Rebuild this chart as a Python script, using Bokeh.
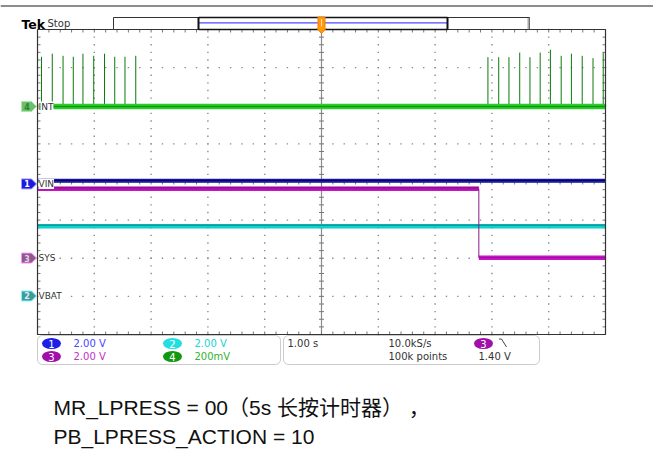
import numpy as np
from bokeh.plotting import figure
from bokeh.models import Range1d, Label, BoxAnnotation
from bokeh.embed import file_html
from bokeh.resources import INLINE

# ---------------- acquisition data ----------------
# Horizontal: 1.00 s/div, 10 divisions, t = 0 at screen centre
time_per_div = 1.0
# Channel vertical settings (V/div) and marker offsets (divisions)
ch_scale = {1: 2.0, 2: 2.0, 3: 2.0, 4: 0.2}
ch_offset = {1: -0.05, 2: -2.99, 3: -1.995, 4: 1.98}
ch_names = {1: "VIN", 2: "VBAT", 3: "SYS", 4: "INT"}

# CH4  INT  (interrupt pulses, mV)
int_pulse_t = [-4.93, -4.74, -4.55, -4.37, -4.20, -4.01, -3.82, -3.64, -3.46, -3.27,
               2.93, 3.12, 3.30, 3.49, 3.67, 3.85, 4.03, 4.22, 4.40, 4.59, 4.78, 4.96]
int_pulse_mv = [261, 277, 266, 261, 277, 266, 277, 261, 261, 266,
                259, 259, 259, 283, 259, 283, 298, 266, 277, 266, 254, 283]
int_t = [-5.0, 5.0]
int_mv = [0.0, 0.0]

# CH1  VIN (V)
vin_t = [-5.0, 5.0]
vin_v = [0.16, 0.16]

# CH3  SYS (V) - falls at t = 2.77 s
sys_t = [-5.0, 2.77, 2.77, 5.0]
sys_v = [3.63, 3.63, 0.02, 0.02]

# CH2  VBAT (V)
vbat_t = [-5.0, 5.0]
vbat_v = [3.66, 3.66]

# readouts
ch_readout = {1: "2.00 V", 2: "2.00 V", 3: "2.00 V", 4: "200mV"}
horiz_readout = "1.00 s"
rate_readout = "10.0kS/s"
points_readout = "100k points"
trig_level = "1.40 V"

caption_1 = "MR_LPRESS = 00（5s 长按计时器） ，"
caption_2 = "PB_LPRESS_ACTION = 10"

# ---------------- page geometry ----------------
W, H = 653, 452
GX0, GX1, GY0, GY1 = 37, 605, 29, 334      # graticule edges on the page
sx = 10.0 / (GX1 - GX0)                    # divisions per pixel
sy = 8.0 / (GY1 - GY0)


def px(x):
    return -5 + (x - GX0) * sx


def py(y):
    return 4 - (y - GY0) * sy


def to_div(ch, volts):
    return np.asarray(volts, dtype=float) / ch_scale[ch] + ch_offset[ch]


def screen_y(ch):
    return GY0 + (4 - ch_offset[ch]) / sy


p = figure(width=W, height=H, output_backend="svg", toolbar_location=None,
           x_range=Range1d(px(0), px(W)), y_range=Range1d(py(H), py(0)),
           x_axis_location=None, y_axis_location=None, min_border=0,
           outline_line_color=None, background_fill_color="white",
           border_fill_color="white")
p.grid.visible = False

# ---------------- graticule ----------------
minor = np.round(np.arange(-5, 5.0001, 0.2), 3)
minor_y = np.round(np.arange(-4, 4.0001, 0.2), 3)
dots_x, dots_y = [], []
for k in [-4, -3, -2, -1, 1, 2, 3, 4]:
    dots_x += [k] * len(minor_y)
    dots_y += list(minor_y)
for j in [-3, -2, -1, 1, 2, 3]:
    dots_x += list(minor)
    dots_y += [j] * len(minor)
p.scatter(dots_x, dots_y, marker="square", size=1.4, color="#8a8a8a", line_color=None)

# centre lines
p.segment(x0=[0, -5], y0=[-4, 0], x1=[0, 5], y1=[4, 0], line_color="#8a8a8a", line_width=1.2)
tl = 2.5
p.segment(x0=[-tl * sx] * len(minor_y), y0=list(minor_y), x1=[tl * sx] * len(minor_y),
          y1=list(minor_y), line_color="#777777", line_width=1)
p.segment(x0=list(minor), y0=[-tl * sy] * len(minor), x1=list(minor), y1=[tl * sy] * len(minor),
          line_color="#777777", line_width=1)
# border ticks
bl = 3
p.segment(x0=[-5] * len(minor_y), y0=list(minor_y), x1=[-5 + bl * sx] * len(minor_y),
          y1=list(minor_y), line_color="#777777", line_width=1)
p.segment(x0=[5] * len(minor_y), y0=list(minor_y), x1=[5 - bl * sx] * len(minor_y),
          y1=list(minor_y), line_color="#777777", line_width=1)
p.segment(x0=list(minor), y0=[4] * len(minor), x1=list(minor), y1=[4 - bl * sy] * len(minor),
          line_color="#777777", line_width=1)
p.segment(x0=list(minor), y0=[-4] * len(minor), x1=list(minor), y1=[-4 + bl * sy] * len(minor),
          line_color="#777777", line_width=1)

# ---------------- traces ----------------
# VBAT (cyan)
vb = to_div(2, vbat_v)
p.line(vbat_t, vb, line_color="#10d0d0", line_width=4.5)
p.line(vbat_t, vb + 1.2 * sy, line_color="#0a8c8c", line_width=1.2)

# SYS (magenta)
sv = to_div(3, sys_v)
p.line(sys_t[:2], sv[:2], line_color="#cc10cc", line_width=4.5)
p.line(sys_t[2:], sv[2:], line_color="#cc10cc", line_width=4.5)
p.line(sys_t, sv, line_color="#8a1a8a", line_width=1)
p.line(sys_t[:2], sv[:2] + 1.5 * sy, line_color="#8a108a", line_width=1)

# VIN (dark blue)
vv = to_div(1, vin_v)
p.line(vin_t, vv, line_color="#1c1ca8", line_width=4)
p.line(vin_t, vv + 0.5 * sy, line_color="#050560", line_width=1.3)

# INT (green)
iv = to_div(4, np.asarray(int_mv) / 1000.0)
base = to_div(4, 0.0)
tops = to_div(4, np.asarray(int_pulse_mv) / 1000.0)
p.segment(x0=int_pulse_t, y0=[float(base)] * len(int_pulse_t), x1=int_pulse_t, y1=list(tops),
          line_color="#0a7a0a", line_width=1)
p.line(int_t, iv, line_color="#2ccc2c", line_width=5.5)
p.line(int_t, iv, line_color="#0e9a0e", line_width=1.5)

# graticule frame
p.line([-5, 5, 5, -5, -5], [4, 4, -4, -4, 4], line_color="#333333", line_width=1.2)

# ---------------- channel tags and trace labels ----------------
tag_style = {
    1: ("#1a1ae0", "#9a9aff", "white"),
    2: ("#3f9c9c", "#7ff5f5", "#d8f0f0"),
    3: ("#8c5a8c", "#ff90ff", "#e8d0e8"),
    4: ("#6cc06c", "#a8e8a8", "#2f7f2f"),
}
for ch in [1, 2, 3, 4]:
    cy = screen_y(ch)
    xs = [px(v) for v in (21, 31, 36, 31, 21)]
    ys = [py(v) for v in (cy - 5, cy - 5, cy, cy + 5, cy + 5)]
    fill, edge, num = tag_style[ch]
    p.patch(xs, ys, fill_color=fill, line_color=edge, line_width=1)
    p.add_layout(Label(x=px(26.5), y=py(cy), text=str(ch), text_align="center",
                       text_baseline="middle", text_font="DejaVu Sans", text_font_size="8px",
                       text_color=num, text_font_style="bold"))
    p.add_layout(Label(x=px(38), y=py(cy), text=ch_names[ch], text_align="left",
                       text_baseline="middle", text_font="DejaVu Sans", text_font_size="9px",
                       text_color="#333333", background_fill_color="white"))

# ---------------- header ----------------
p.line([px(0), px(W)], [py(5.5), py(5.5)], line_color="#8c8c8c", line_width=2)
p.add_layout(Label(x=px(21), y=py(23.5), text="Tek", text_font="DejaVu Sans",
                   text_font_size="12.5px", text_font_style="bold", text_color="black",
                   text_baseline="middle"))
p.add_layout(Label(x=px(47), y=py(23), text="Stop", text_font="DejaVu Sans",
                   text_font_size="10px", text_color="#333333", text_baseline="middle"))

# record view bar
p.quad(left=[px(113)], right=[px(529)], top=[py(17)], bottom=[py(29)],
       fill_color="white", line_color="#333333", line_width=1)
p.line([px(528), px(528)], [py(17.5), py(28.5)], line_color="#aaaaaa", line_width=2)
p.line([px(198), px(447)], [py(22.3), py(22.3)], line_color="#4a4aff", line_width=1.3)
p.segment(x0=[px(198), px(447)], y0=[py(17), py(17)], x1=[px(198), px(447)], y1=[py(29), py(29)],
          line_color="#111111", line_width=2)
p.line([px(198), px(447)], [py(17), py(17)], line_color="#111111", line_width=1.5)
p.line([px(198), px(447)], [py(29), py(29)], line_color="#111111", line_width=1.5)
# trigger position marker
p.patch([px(v) for v in (317.5, 324.5, 324.5, 325.5, 321, 316.5, 317.5)],
        [py(v) for v in (16.5, 16.5, 27, 28, 33, 28, 27)],
        fill_color="#ff9a10", line_color="#f08000", line_width=1)
p.line([px(321), px(321)], [py(18.5), py(26)], line_color="#ffe0a0", line_width=1)

# ---------------- readout panels ----------------
for l, r in [(37, 280), (283, 539)]:
    p.add_layout(BoxAnnotation(left=px(l), right=px(r), top=py(335), bottom=py(364),
                               fill_alpha=0, line_color="#555555",
                               line_width=1, border_radius=5))

badge_fill = {1: "#1e1ee6", 2: "#22dede", 3: "#a010a8", 4: "#109810"}
value_col = {1: "#4646ff", 2: "#20d2d2", 3: "#c030c8", 4: "#32b232"}
badge_pos = {1: (51, 343), 2: (172, 343), 3: (51, 356), 4: (172, 356)}
for ch in [1, 2, 3, 4]:
    bx, by = badge_pos[ch]
    p.ellipse(x=[px(bx)], y=[py(by)], width=19, height=11, width_units="screen",
              height_units="screen", fill_color=badge_fill[ch], line_color=None)
    p.add_layout(Label(x=px(bx), y=py(by), text=str(ch), text_align="center",
                       text_baseline="middle", text_font="DejaVu Sans", text_font_size="10px",
                       text_color="white"))
    p.add_layout(Label(x=px(bx + 22), y=py(by), text=ch_readout[ch], text_align="left",
                       text_baseline="middle", text_font="DejaVu Sans", text_font_size="10px",
                       text_color=value_col[ch]))

info_font = dict(text_font="DejaVu Sans", text_font_size="10px", text_color="#333333",
                 text_baseline="middle", text_align="left")
p.add_layout(Label(x=px(287), y=py(343), text=horiz_readout, **info_font))
p.add_layout(Label(x=px(388), y=py(343), text=rate_readout, **info_font))
p.add_layout(Label(x=px(388), y=py(356), text=points_readout, **info_font))
p.add_layout(Label(x=px(478), y=py(356), text=trig_level, **info_font))
p.ellipse(x=[px(483)], y=[py(343)], width=19, height=11, width_units="screen",
          height_units="screen", fill_color=badge_fill[3], line_color=None)
p.add_layout(Label(x=px(483), y=py(343), text="3", text_align="center", text_baseline="middle",
                   text_font="DejaVu Sans", text_font_size="10px", text_color="white"))
p.line([px(498.5), px(501), px(506)], [py(338.5), py(338.5), py(346.5)],
       line_color="#444444", line_width=1)

# ---------------- caption ----------------
cap_font = "Liberation Sans, Noto Sans CJK SC, sans-serif"
p.add_layout(Label(x=px(53), y=py(407), text=caption_1, text_font=cap_font,
                   text_font_size="21px", text_color="#111111", text_baseline="middle"))
p.add_layout(Label(x=px(53), y=py(436), text=caption_2, text_font=cap_font,
                   text_font_size="21px", text_color="#111111", text_baseline="middle"))

open("out.html", "w").write(file_html(p, INLINE))
